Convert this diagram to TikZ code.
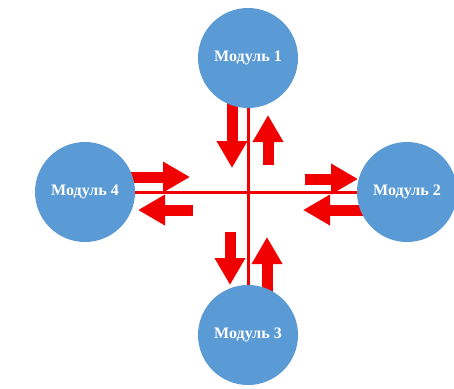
\documentclass[tikz,border=0pt]{standalone}
\usepackage{fontspec}
\setmainfont{Liberation Serif}
\usetikzlibrary{arrows.meta}
\definecolor{modblue}{HTML}{5B9BD5}
\definecolor{arrred}{HTML}{F00000}
\begin{document}
\begin{tikzpicture}[x=1pt,y=-1pt,
  module/.style={circle,fill=modblue,minimum size=100pt,inner sep=0pt,text=white,
    font=\bfseries\fontsize{16}{18}\selectfont},
  link/.style={draw=arrred,line width=3pt},
  blk/.style={draw=arrred,line width=11pt,-{Triangle[length=27pt,width=29pt]}}]
\useasboundingbox[fill=white] (0,0) rectangle (454,388);
% arrows first, modules on top
\coordinate (c1) at (248,58);
\coordinate (c2) at (407,192);
\coordinate (c3) at (248,335);
\coordinate (c4) at (85,192);
\draw[blk] ([shift={(-16,40)}]c1) -- ([shift={(-16,110)}]c1);
\draw[blk] ([shift={(20,107)}]c1) -- ([shift={(20,57)}]c1);
\draw[blk] ([shift={(-18,-103)}]c3) -- ([shift={(-18,-50)}]c3);
\draw[blk] ([shift={(19,-40)}]c3) -- ([shift={(19,-98)}]c3);
\draw[blk] ([shift={(40,-15)}]c4) -- ([shift={(105,-15)}]c4);
\draw[blk] ([shift={(108,18)}]c4) -- ([shift={(53,18)}]c4);
\draw[blk] ([shift={(-102,-13)}]c2) -- ([shift={(-49,-13)}]c2);
\draw[blk] ([shift={(-40,18)}]c2) -- ([shift={(-104,18)}]c2);
\node[module] (m1) at (c1) {Модуль 1};
\node[module] (m2) at (c2) {Модуль 2};
\node[module] (m3) at (c3) {Модуль 3};
\node[module] (m4) at (c4) {Модуль 4};
\draw[link] (m1) -- (m3);
\draw[link] (m4) -- (m2);
\end{tikzpicture}
\end{document}
